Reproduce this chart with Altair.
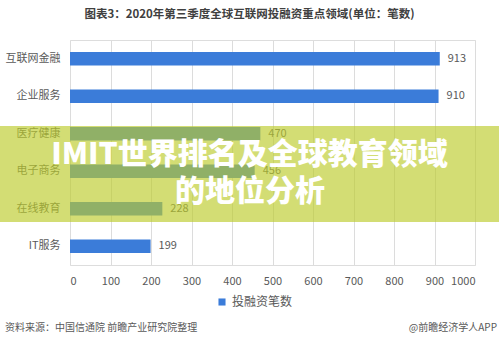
import altair as alt
import pandas as pd

categories = ["互联网金融", "企业服务", "医疗健康", "电子商务", "在线教育", "IT服务"]
values = [913, 910, 470, 456, 228, 199]
series_name = "投融资笔数"
x_ticks = [0, 100, 200, 300, 400, 500, 600, 700, 800, 900, 1000]

title_text = "图表3：2020年第三季度全球互联网投融资重点领域(单位：笔数)"
banner_line1 = "IMIT世界排名及全球教育领域"
banner_line2 = "的地位分析"
source_text = "资料来源：中国信通院 前瞻产业研究院整理"
brand_text = "@前瞻经济学人APP"

FONT = "Noto Sans CJK SC"
GRAY = "#595959"
BLUE = "#3b7cd9"

df = pd.DataFrame({"cat": categories, "val": values, "series": [series_name] * len(values)})
one = pd.DataFrame({"k": [0]})

base = alt.Chart(df)

bars = base.mark_bar(color=BLUE).encode(
    y=alt.Y("cat:N", sort=categories, title=None,
            scale=alt.Scale(paddingInner=0.64, paddingOuter=0.32),
            axis=alt.Axis(domain=False, ticks=False, labelPadding=10, labelColor=GRAY,
                          labelFontSize=11, labelFont=FONT, zindex=0)),
    x=alt.X("val:Q", title=None, scale=alt.Scale(domain=[0, 1000], nice=False),
            axis=alt.Axis(values=x_ticks, format="d", grid=True, gridColor="#dcdcdc", domain=False,
                          ticks=False, labelPadding=10, labelColor=GRAY, labelFontSize=11,
                          labelFont=FONT, zindex=0)),
    color=alt.Color("series:N", scale=alt.Scale(range=[BLUE]),
                    legend=alt.Legend(title=None, orient="none", legendX=146, legendY=256,
                                      symbolType="square", symbolSize=50, labelFontSize=12,
                                      labelColor=GRAY, labelFont=FONT)),
)

labels = base.mark_text(align="left", dx=8, fontSize=11, color=GRAY, font=FONT).encode(
    y=alt.Y("cat:N", sort=categories),
    x=alt.X("val:Q"),
    text=alt.Text("val:Q"),
)

band = alt.Chart(one).mark_rect(color="#bccc2c", opacity=0.66).encode(
    x=alt.value(-70), x2=alt.value(429), y=alt.value(86), y2=alt.value(182)
)

b1 = alt.Chart(one).mark_text(fontSize=30, fontWeight=900, color="white", font=FONT,
                              baseline="middle", align="center").encode(
    x=alt.value(179.5), y=alt.value(115), text=alt.value(banner_line1))
b2 = alt.Chart(one).mark_text(fontSize=30, fontWeight=900, color="white", font=FONT,
                              baseline="middle", align="center").encode(
    x=alt.value(180), y=alt.value(152), text=alt.value(banner_line2))

src = alt.Chart(one).mark_text(fontSize=10, color=GRAY, font=FONT, align="left",
                               baseline="middle").encode(
    x=alt.value(-65), y=alt.value(288), text=alt.value(source_text))
brand = alt.Chart(one).mark_text(fontSize=10, color=GRAY, font=FONT, align="right",
                                 baseline="middle").encode(
    x=alt.value(427), y=alt.value(288), text=alt.value(brand_text))

chart = alt.layer(bars, labels, band, b1, b2, src, brand).properties(
    width=405, height=225,
    autosize=alt.AutoSizeParams(type="none"),
    padding={"left": 70, "top": 40, "right": 24, "bottom": 83},
    title=alt.TitleParams(title_text, fontSize=11.5, fontWeight="bold", color="#404040",
                          font=FONT, anchor="middle", dx=-23, offset=20),
).configure_view(stroke=None).configure(background="white")

chart.save("out.html", embed_options={"renderer": "svg", "actions": False})
